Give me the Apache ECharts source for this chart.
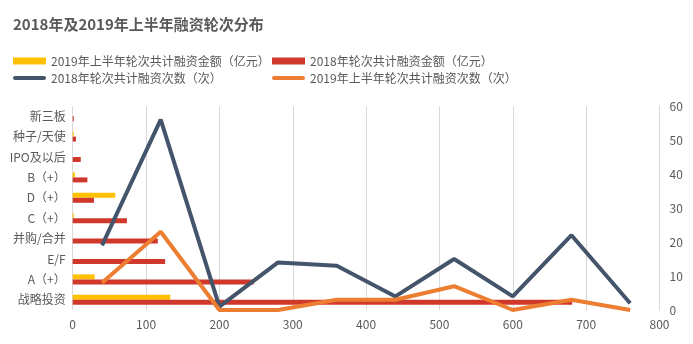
<!DOCTYPE html>
<html><head><meta charset="utf-8">
<script src="https://cdn.jsdelivr.net/npm/echarts@6/dist/echarts.min.js"></script>
<style>html,body{margin:0;padding:0;background:#fff}#c{width:693px;height:344px}</style>
</head><body><div id="c"></div>
<script>
const categories = ['战略投资','A（+）','E/F','并购/合并','C（+）','D（+）','B（+）','IPO及以后','种子/天使','新三板'];
const amount2019 = [133, 30, 0, 0, 1.5, 58, 3, 0, 1.5, 0];
const amount2018 = [681, 247, 126, 116, 74, 29, 20, 11, 4.5, 1.5];
const linePoints = ['1','2','3','4','5','6','7','8','9','10'];
const count2018 = [19, 56, 1, 14, 13, 4, 15, 4, 22, 2];
const count2019 = [8, 23, 0, 0, 3, 3, 7, 0, 3, 0];
const xTicks = {min: 0, max: 800, interval: 100};
const rightTicks = {min: 0, max: 60, interval: 10};

const F = '"Noto Sans CJK SC", "Noto Sans", sans-serif';
const txt = '#595959';
const lineIcon = 'path://M2,0 L31,0 A2,2 0 0 1 31,4 L2,4 A2,2 0 0 1 2,0 Z';
const chart = echarts.init(document.getElementById('c'));
chart.setOption({
  animation: false,
  textStyle: {fontFamily: F},
  title: {text: '2018年及2019年上半年融资轮次分布', left: 8, top: 12,
    textStyle: {fontSize: 15, fontWeight: 'bold', color: txt, fontFamily: F}},
  legend: [
    {orient: 'vertical', left: 8, top: 50, itemWidth: 33, itemHeight: 7, itemGap: 5,
     textStyle: {color: txt, fontSize: 12, fontFamily: F},
     data: [{name: '2019年上半年轮次共计融资金额（亿元）', icon: 'rect'}, {name: '2018年轮次共计融资次数（次）', icon: lineIcon}]},
    {orient: 'vertical', left: 267, top: 50, itemWidth: 33, itemHeight: 7, itemGap: 5,
     textStyle: {color: txt, fontSize: 12, fontFamily: F},
     data: [{name: '2018年轮次共计融资金额（亿元）', icon: 'rect'}, {name: '2019年上半年轮次共计融资次数（次）', icon: lineIcon}]}
  ],
  grid: {left: 72.7, right: 33.5, top: 106, bottom: 34},
  xAxis: [
    {type: 'value', min: xTicks.min, max: xTicks.max, interval: xTicks.interval,
     axisLine: {show: false}, axisTick: {show: false},
     axisLabel: {color: txt, fontSize: 12, margin: 8},
     splitLine: {show: true, lineStyle: {color: '#d9d9d9', width: 1}}},
    {type: 'category', data: linePoints, boundaryGap: true, show: false, position: 'top'}
  ],
  yAxis: [
    {type: 'category', data: categories, axisLine: {show: false}, axisTick: {show: false},
     axisLabel: {color: txt, fontSize: 12, margin: 7}},
    {type: 'value', min: rightTicks.min, max: rightTicks.max, interval: rightTicks.interval, position: 'right',
     axisLine: {show: true, lineStyle: {color: '#d9d9d9'}}, axisTick: {show: false},
     axisLabel: {color: txt, fontSize: 12, margin: 10}, splitLine: {show: false}}
  ],
  series: [
    {name: '2019年上半年轮次共计融资金额（亿元）', type: 'bar', xAxisIndex: 0, yAxisIndex: 0,
     data: amount2019, barWidth: 5, barGap: '0%', itemStyle: {color: '#FFC000'}},
    {name: '2018年轮次共计融资金额（亿元）', type: 'bar', xAxisIndex: 0, yAxisIndex: 0,
     data: amount2018, barWidth: 5, barGap: '0%', itemStyle: {color: '#D0382C'}},
    {name: '2018年轮次共计融资次数（次）', type: 'line', xAxisIndex: 1, yAxisIndex: 1,
     data: count2018, symbol: 'none', lineStyle: {color: '#44546A', width: 4}, itemStyle: {color: '#44546A'}},
    {name: '2019年上半年轮次共计融资次数（次）', type: 'line', xAxisIndex: 1, yAxisIndex: 1,
     data: count2019, symbol: 'none', lineStyle: {color: '#ED7D31', width: 4}, itemStyle: {color: '#ED7D31'}}
  ]
});
</script></body></html>
